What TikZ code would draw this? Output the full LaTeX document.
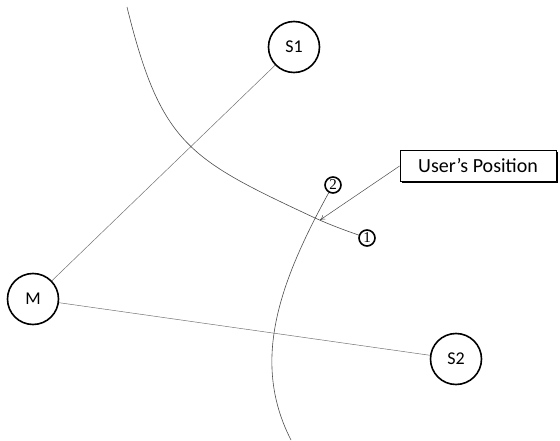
\documentclass[tikz,border=0pt]{standalone}
\usepackage{fontspec}
\setmainfont{Carlito}
\newfontfamily\numfont{Liberation Serif}
\usetikzlibrary{arrows.meta}

\tikzset{
  station/.style={circle, draw=black, line width=1.6pt, fill=white,
    minimum size=51pt, inner sep=0pt, font=\fontsize{18}{18}\selectfont},
  marker/.style={circle, draw=black, line width=1.6pt, fill=white,
    minimum size=16pt, inner sep=0pt, font=\numfont\fontsize{15}{15}\selectfont},
  baseline/.style={draw=black!55, line width=0.5pt},
  hyperbola/.style={draw=black!70, line width=0.6pt},
  callout/.style={draw=black, line width=0.8pt, fill=white,
    minimum width=156pt, minimum height=31pt, inner sep=0pt,
    font=\fontsize{20}{20}\selectfont},
  pointer/.style={draw=black!70, line width=0.5pt, -{To[length=5pt,width=5pt]}}
}

\begin{document}
\begin{tikzpicture}[x=1pt, y=-1pt]
  \useasboundingbox (0,0) rectangle (560,441);

  % master and secondary stations
  \node[station] (S1) at (294,47)  {S1};
  \node[station] (M)  at (33,299)  {M};
  \node[station] (S2) at (456,359) {S2};

  % baselines between the stations
  \draw[baseline] (S1) -- (M);
  \draw[baseline] (M) -- (S2);

  % hyperbolic lines of position
  \coordinate (h1start) at (127,7);
  \coordinate (h1mid)   at (315,218);
  \coordinate (h1end)   at (367,238);
  \coordinate (h2start) at (333,185);
  \coordinate (h2end)   at (291,440);
  \draw[hyperbola] (h1start) .. controls (161,145) and (189,159) .. (h1mid)
    .. controls (335,227) and (350,232) .. (h1end);
  \draw[hyperbola] (h2start) .. controls (280,280) and (250,360) .. (h2end);

  % numbered markers at the ends of the lines of position
  \node[marker] (c1) at (h1end)   {1};
  \node[marker] (c2) at (h2start) {2};

  % callout with its shadow
  \fill[black] (402,152) rectangle (558,183);
  \node[callout] (pos) at (478,166) {User's Position};
  \coordinate (fix) at (320,220);
  \draw[pointer] (pos.west) -- (fix);
\end{tikzpicture}
\end{document}
